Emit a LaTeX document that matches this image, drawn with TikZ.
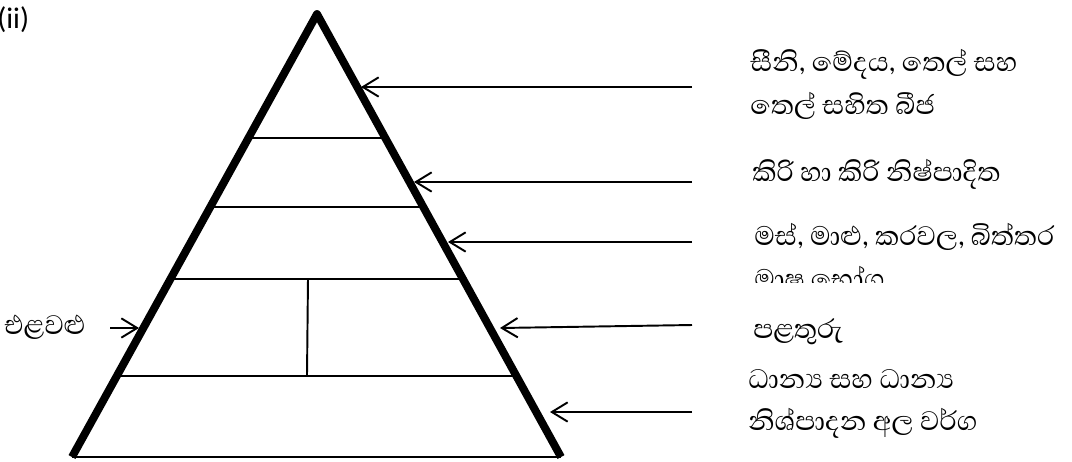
\documentclass[tikz,border=0pt]{standalone}
\usepackage{fontspec}
\newfontfamily\sinhalafont[Script=Sinhala]{Abhaya Libre}
\newfontfamily\tagfont{Carlito}
\usepackage{xcolor}
\definecolor{inkdark}{HTML}{000000}
\usepackage{tikz}
\usetikzlibrary{arrows.meta, positioning, calc}
\tikzset{
  pside/.style ={draw=inkdark, line width=4.5pt, line join=round},
  ptier/.style ={draw=inkdark, line width=1.1pt},
  parr/.style  ={-{Straight Barb[length=9pt, width=11pt, line width=1.1pt]}, line width=1.1pt, color=inkdark},
  foodlbl/.style={font=\sinhalafont\fontsize{19.5}{24.4}\selectfont, text=inkdark, align=left, anchor=west, inner sep=0pt},
}

\begin{document}
\begin{tikzpicture}[x=0.02cm, y=-0.02cm]
  \useasboundingbox (0,0) rectangle (1072,461);
  \node[font=\tagfont\fontsize{17}{20}\selectfont, anchor=west, inner sep=0pt] (tag) at (-3,20) {(ii)};
  % pyramid corners
  \coordinate (apex) at (317,14);
  \coordinate (bl) at (72,457);
  \coordinate (br) at (561,457);
  % tiers
  \foreach \t in {0.279,0.435,0.599,0.818}
    \draw[ptier] ($(apex)!\t!(bl)$) -- ($(apex)!\t!(br)$);
  \draw[ptier] (308,278) -- (307,375);
  \draw[ptier] (bl) -- (br);
  \draw[pside] (bl) -- (apex) -- (br);
  % labels on the right
  \node[foodlbl] (sugar) at (750,84) {සීනි, මේදය, තෙල් සහ\\තෙල් සහිත බීජ};
  \node[foodlbl] (milk) at (752,174) {කිරි හා කිරි නිෂ්පාදිත};
  \begin{scope}
    \clip (700,200) rectangle (1072,282);
    \node[foodlbl] (meat) at (754,256) {මස්, මාළු, කරවල, බිත්තර\\මාෂ භෝග};
  \end{scope}
  \node[foodlbl] (fruit) at (753,332) {පළතුරු};
  \node[foodlbl] (grain) at (748,404) {ධාන්‍ය සහ ධාන්‍ය\\නිශ්පාදන අල වර්ග};
  \node[foodlbl, anchor=east] (veg) at (86,327) {එළවළු};
  % arrows
  \foreach \n/\xs/\ys/\xe/\ye in {1/692/87/361/87, 2/692/182/414/182, 3/692/242/448/242, 4/692/325/500/328, 5/692/412/550/412} {
    \coordinate (s\n) at (\xs,\ys);
    \coordinate (e\n) at (\xe,\ye);
    \draw[parr] (s\n) -- (e\n);
  }
  \coordinate (vs) at (110,328);
  \coordinate (ve) at (139,328);
  \draw[parr] (vs) -- (ve);
\end{tikzpicture}
\end{document}
